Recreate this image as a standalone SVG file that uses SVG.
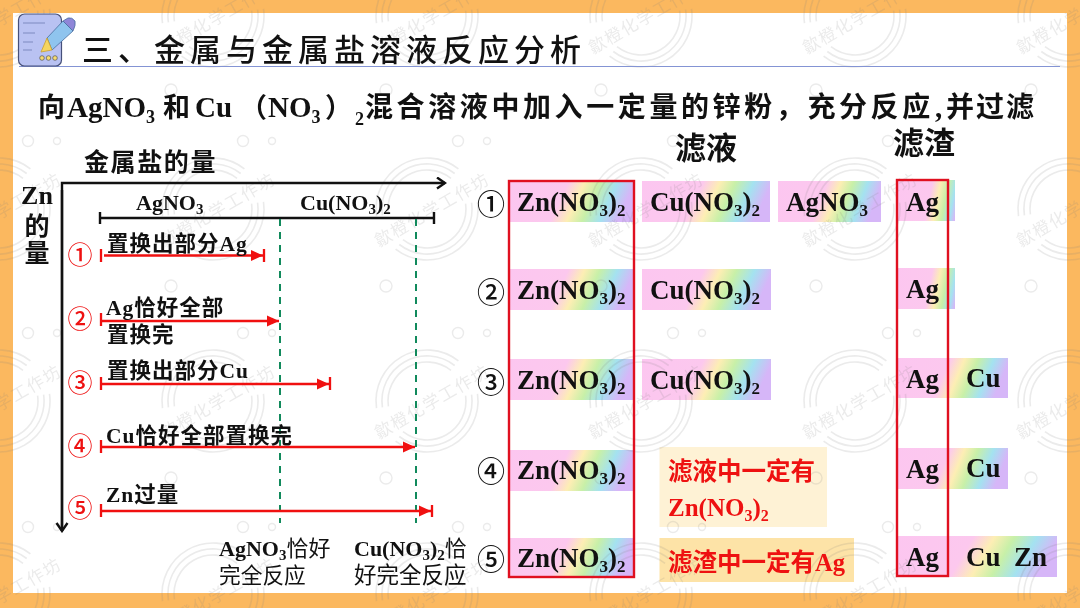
<svg xmlns="http://www.w3.org/2000/svg" xmlns:xlink="http://www.w3.org/1999/xlink" width="1080" height="608" viewBox="0 0 1080 608">
<style>
text{font-family:"Liberation Serif","Noto Sans CJK SC",sans-serif;font-weight:bold;fill:#111}
.cn{font-family:"Noto Sans CJK SC",sans-serif;font-weight:700}
.thin{font-weight:400}
.f{font-size:27px}
.l{font-size:21.500px;letter-spacing:1px}
.r{fill:#ee1111}
.num{font-family:"Noto Sans CJK SC",sans-serif;font-weight:500;text-anchor:middle}
.wt{font-family:"Noto Sans CJK SC",sans-serif;font-weight:400;font-size:17px;letter-spacing:1.500px;text-anchor:middle;fill:#808080}
.ax{stroke:#111;stroke-width:2.4;fill:none}
.rl{stroke:#f01010;stroke-width:2.3;fill:none}
.gd{stroke:#118a5c;stroke-width:2;stroke-dasharray:7 6;fill:none}
.box{fill:url(#rb)}
.box2{fill:url(#rb2)}
.frame{fill:none;stroke:#e01020;stroke-width:2.4}
</style>
<defs>
<linearGradient id="rb" x1="0" y1="0" x2="1" y2="0.15">
<stop offset="0" stop-color="#fcc6f0"/><stop offset=".47" stop-color="#fcc8ee"/><stop offset=".6" stop-color="#fdeeb4"/><stop offset=".72" stop-color="#c8f0a8"/><stop offset=".86" stop-color="#a4e2f0"/><stop offset="1" stop-color="#d6b6f8"/>
</linearGradient>
<linearGradient id="rb2" x1="0" y1="0" x2="1.1" y2="0.15">
<stop offset="0" stop-color="#fcc6f0"/><stop offset=".55" stop-color="#fcc8ee"/><stop offset=".68" stop-color="#fdeeb4"/><stop offset=".8" stop-color="#c8f0a8"/><stop offset=".92" stop-color="#a4e2f0"/><stop offset="1" stop-color="#d6b6f8"/>
</linearGradient>
<marker id="ra" markerUnits="userSpaceOnUse" markerWidth="13" markerHeight="12" refX="12" refY="6" orient="auto"><path d="M0 0.500L12 6L0 11.500Z" fill="#f01010"/></marker>
<marker id="ka" markerUnits="userSpaceOnUse" markerWidth="12" markerHeight="14" refX="10" refY="6.500" orient="auto"><path d="M2 1L10 6.500L2 12" fill="none" stroke="#111" stroke-width="2.4"/></marker>
<g id="wm">
<g fill="none" stroke="#808080" stroke-width="1.6">
<path d="M31.400 -40.200A51 51 0 0 0 -50.500 7.100M-31.400 40.200A51 51 0 0 0 50.500 -7.100"/>
<path d="M27.700 -35.500A45 45 0 0 0 -44.600 6.300M-27.700 35.500A45 45 0 0 0 44.600 -6.300"/>
<path d="M24 -30.700A39 39 0 0 0 -38.600 5.400M-24 30.700A39 39 0 0 0 38.600 -5.400"/>
</g>
<text class="wt" transform="translate(8 6) rotate(-30)">歙橙化学工作坊</text>
</g>
<g id="dots" fill="none" stroke="#808080" stroke-width="1.4">
<circle cx="28" cy="141" r="5.500"/><circle cx="57" cy="141" r="3.500"/><circle cx="171" cy="90" r="6"/>
<circle cx="28" cy="333" r="5.500"/><circle cx="57" cy="333" r="3.500"/><circle cx="171" cy="286" r="6"/>
<circle cx="28" cy="527" r="5.500"/><circle cx="57" cy="527" r="3.500"/><circle cx="171" cy="478" r="6"/>
</g>
</defs>
<rect width="1080" height="608" fill="#fbb85f"/>
<rect x="13" y="13" width="1054" height="580" fill="#fff"/>

<g id="filtrate-boxes">
<rect class="box" x="509" y="181" width="124" height="41"/><rect class="box" x="642" y="181" width="128" height="41"/><rect class="box" x="778" y="181" width="103" height="41"/>
<rect class="box" x="509" y="269" width="124" height="41"/><rect class="box" x="642" y="269" width="129" height="41"/>
<rect class="box" x="509" y="359" width="124" height="41"/><rect class="box" x="642" y="359" width="129" height="41"/>
<rect class="box" x="509" y="450" width="124" height="41"/>
<rect class="box" x="509" y="538" width="124" height="40"/>
<rect x="659.500" y="447" width="167.500" height="80" fill="#fef2d5"/>
<rect x="659.500" y="538" width="194.500" height="44" fill="#fde3a7"/>
</g>
<g id="residue-boxes">
<rect class="box2" x="897" y="180" width="58" height="41"/>
<rect class="box2" x="897" y="268" width="58" height="41"/>
<rect class="box" x="897" y="358" width="111" height="40"/>
<rect class="box" x="897" y="448" width="111" height="41"/>
<rect class="box" x="897" y="536" width="160" height="41"/>
</g>

<g id="watermark" opacity=".16">
<use href="#wm" x="-1" y="16"/><use href="#wm" x="213" y="16"/><use href="#wm" x="427" y="16"/><use href="#wm" x="641" y="16"/><use href="#wm" x="855" y="16"/><use href="#wm" x="1069" y="16"/>
<use href="#wm" x="-1" y="209"/><use href="#wm" x="213" y="209"/><use href="#wm" x="427" y="209"/><use href="#wm" x="641" y="209"/><use href="#wm" x="855" y="209"/><use href="#wm" x="1069" y="209"/>
<use href="#wm" x="-1" y="401"/><use href="#wm" x="213" y="401"/><use href="#wm" x="427" y="401"/><use href="#wm" x="641" y="401"/><use href="#wm" x="855" y="401"/><use href="#wm" x="1069" y="401"/>
<use href="#wm" x="-1" y="594"/><use href="#wm" x="213" y="594"/><use href="#wm" x="427" y="594"/><use href="#wm" x="641" y="594"/><use href="#wm" x="855" y="594"/><use href="#wm" x="1069" y="594"/>
<use href="#dots"/><use href="#dots" x="215"/><use href="#dots" x="430"/><use href="#dots" x="645"/><use href="#dots" x="860"/>
</g>

<g id="header">
<line x1="19" y1="66.500" x2="1060" y2="66.500" stroke="#8494d4" stroke-width="1.2"/>
<rect x="18.500" y="14" width="43" height="52" rx="6" fill="#b9c2f2" stroke="#46507a" stroke-width="1.2"/>
<path d="M23 23H45M23 33H35M23 42H33M23 50H32" stroke="#7f8ac0" stroke-width="1.2" fill="none"/>
<path d="M47 38L63 21L73 31L52 50Z" fill="#8fc4ee" stroke="#4a6fa0" stroke-width=".8"/>
<path d="M63 21L68 18Q72 17 75 21Q76 25 73 31Z" fill="#8f86d8" stroke="#4a6fa0" stroke-width=".8"/>
<path d="M47 38L52 50L41 52Z" fill="#f5d55f" stroke="#c9a030" stroke-width=".8"/>
<circle cx="42" cy="58" r="2.300" fill="#f7dc70" stroke="#555" stroke-width=".7"/><circle cx="48.500" cy="58" r="2.300" fill="#f7dc70" stroke="#555" stroke-width=".7"/><circle cx="55" cy="58" r="2.300" fill="#f7dc70" stroke="#555" stroke-width=".7"/>
<text class="cn" x="82" y="61" font-size="31" letter-spacing="5" style="font-weight:500">三、金属与金属盐溶液反应分析</text>
<text x="38" y="117" font-size="29"><tspan class="cn" font-size="27">向</tspan><tspan x="67">AgNO</tspan><tspan font-size="18" dy="6">3</tspan><tspan class="cn" font-size="27" x="163" dy="-6">和</tspan><tspan x="195">Cu</tspan><tspan class="cn" font-size="27" x="240">（</tspan><tspan x="268">NO</tspan><tspan font-size="18" dy="6">3</tspan><tspan class="cn" font-size="27" x="325" dy="-6">）</tspan><tspan font-size="18" x="355" dy="8">2</tspan><tspan class="cn" font-size="28" style="letter-spacing:3.600px" x="365" dy="-8">混合溶液中加入一定量的锌粉，充分反应</tspan><tspan x="935">,</tspan><tspan class="cn" font-size="28" style="letter-spacing:2px" x="946">并过滤</tspan></text>
<text class="cn" x="84" y="171" font-size="25" letter-spacing="1.600">金属盐的量</text>
<text class="cn" x="675" y="159" font-size="31">滤液</text>
<text class="cn" x="893" y="154" font-size="31">滤渣</text>
</g>

<g id="chart-axes">
<path class="ax" d="M62 531V183H445" marker-end="url(#ka)"/>
<path class="ax" d="M62 190V531" marker-end="url(#ka)"/>
<path class="ax" d="M100 218H434M100 212V224M434 212V224"/>
<path class="gd" d="M280 219V523M416 219V523"/>
<text x="37" y="204" font-size="26" text-anchor="middle">Zn</text>
<text class="cn" x="37" y="235" font-size="25" text-anchor="middle">的</text>
<text class="cn" x="37" y="262" font-size="25" text-anchor="middle">量</text>
<text x="136" y="210" font-size="22">AgNO<tspan font-size="15" dy="4">3</tspan></text>
<text x="300" y="210" font-size="22">Cu(NO<tspan font-size="15" dy="4">3</tspan><tspan dy="-4">)</tspan><tspan font-size="15" dy="4">2</tspan></text>
</g>

<g id="connectors">
<path class="rl" d="M104 255.500H263" marker-end="url(#ra)"/><path class="rl" d="M101 249V262M264 249V262"/>
<path class="rl" d="M101 321H279" marker-end="url(#ra)"/><path class="rl" d="M101 313V326"/>
<path class="rl" d="M101 384H329" marker-end="url(#ra)"/><path class="rl" d="M101 377V390M330 377V390"/>
<path class="rl" d="M101 447H415" marker-end="url(#ra)"/><path class="rl" d="M101 440V453"/>
<path class="rl" d="M101 511H431" marker-end="url(#ra)"/><path class="rl" d="M101 504V517M432 505V517"/>
</g>

<g id="step-labels">
<text class="num r" x="80" y="264" font-size="25">①</text>
<text class="num r" x="80" y="328" font-size="25">②</text>
<text class="num r" x="80" y="392" font-size="25">③</text>
<text class="num r" x="80" y="455" font-size="25">④</text>
<text class="num r" x="80" y="517" font-size="25">⑤</text>
<text class="l" x="107" y="251"><tspan class="cn">置换出部分</tspan><tspan>Ag</tspan></text>
<text class="l" x="106" y="315"><tspan>Ag</tspan><tspan class="cn">恰好全部</tspan></text>
<text class="l cn" x="107" y="342">置换完</text>
<text class="l" x="107" y="378"><tspan class="cn">置换出部分</tspan><tspan>Cu</tspan></text>
<text class="l" x="106" y="443"><tspan>Cu</tspan><tspan class="cn">恰好全部置换完</tspan></text>
<text class="l" x="106" y="502"><tspan>Zn</tspan><tspan class="cn">过量</tspan></text>
<text x="219" y="556" font-size="22">AgNO<tspan font-size="15" dy="4">3</tspan><tspan class="cn thin" dy="-4">恰好</tspan></text>
<text class="cn thin" x="219" y="583" font-size="21.700">完全反应</text>
<text x="354" y="556" font-size="22">Cu(NO<tspan font-size="15" dy="4">3</tspan><tspan dy="-4">)</tspan><tspan font-size="15" dy="4">2</tspan><tspan class="cn thin" dy="-4">恰</tspan></text>
<text class="cn thin" x="354" y="583" font-size="22.500">好完全反应</text>
</g>

<g id="row-numbers">
<text class="num" x="491" y="215" font-size="28">①</text>
<text class="num" x="491" y="303" font-size="28">②</text>
<text class="num" x="491" y="393" font-size="28">③</text>
<text class="num" x="491" y="482" font-size="28">④</text>
<text class="num" x="491" y="570" font-size="28">⑤</text>
</g>

<g id="filtrate-text">
<text class="f" x="517" y="211">Zn(NO<tspan font-size="17" dy="5">3</tspan><tspan dy="-5">)</tspan><tspan font-size="17" dy="5">2</tspan></text>
<text class="f" x="650" y="211">Cu(NO<tspan font-size="17" dy="5">3</tspan><tspan dy="-5">)</tspan><tspan font-size="17" dy="5">2</tspan></text>
<text class="f" x="786" y="211">AgNO<tspan font-size="17" dy="5">3</tspan></text>
<text class="f" x="517" y="299">Zn(NO<tspan font-size="17" dy="5">3</tspan><tspan dy="-5">)</tspan><tspan font-size="17" dy="5">2</tspan></text>
<text class="f" x="650" y="299">Cu(NO<tspan font-size="17" dy="5">3</tspan><tspan dy="-5">)</tspan><tspan font-size="17" dy="5">2</tspan></text>
<text class="f" x="517" y="389">Zn(NO<tspan font-size="17" dy="5">3</tspan><tspan dy="-5">)</tspan><tspan font-size="17" dy="5">2</tspan></text>
<text class="f" x="650" y="389">Cu(NO<tspan font-size="17" dy="5">3</tspan><tspan dy="-5">)</tspan><tspan font-size="17" dy="5">2</tspan></text>
<text class="f" x="517" y="479">Zn(NO<tspan font-size="17" dy="5">3</tspan><tspan dy="-5">)</tspan><tspan font-size="17" dy="5">2</tspan></text>
<text class="f" x="517" y="567">Zn(NO<tspan font-size="17" dy="5">3</tspan><tspan dy="-5">)</tspan><tspan font-size="17" dy="5">2</tspan></text>
<text class="r cn" x="668" y="480" font-size="24.500">滤液中一定有</text>
<text class="r" x="668" y="516" font-size="25">Zn(NO<tspan font-size="16" dy="5">3</tspan><tspan dy="-5">)</tspan><tspan font-size="16" dy="5">2</tspan></text>
<text class="r" x="668" y="571" font-size="24.500"><tspan class="cn">滤渣中一定有</tspan><tspan>Ag</tspan></text>
</g>

<g id="residue-text">
<text class="f" x="906" y="211">Ag</text>
<text class="f" x="906" y="298">Ag</text>
<text class="f" x="906" y="388">Ag</text><text class="f" x="966" y="387">Cu</text>
<text class="f" x="906" y="478">Ag</text><text class="f" x="966" y="477">Cu</text>
<text class="f" x="906" y="566">Ag</text><text class="f" x="966" y="566">Cu</text><text class="f" x="1014" y="566">Zn</text>
</g>

<g id="highlight-frames">
<rect class="frame" x="509" y="181" width="125" height="396"/>
<rect class="frame" x="897" y="180" width="51" height="396"/>
</g>
</svg>
